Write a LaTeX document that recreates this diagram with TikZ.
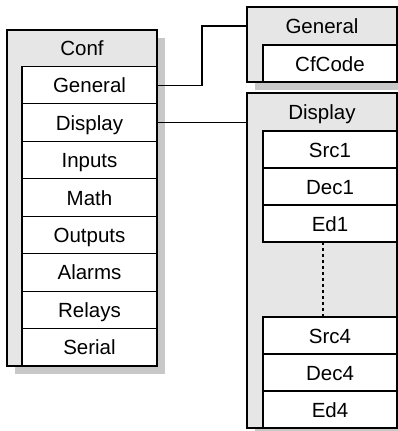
\documentclass[tikz,border=0pt]{standalone}
\usepackage{fontspec}
\setmainfont{Liberation Sans}
\usetikzlibrary{shadows}
\definecolor{boxgray}{HTML}{E6E6E6}
\definecolor{shadowgray}{HTML}{C8C8C8}
\begin{document}
\begin{tikzpicture}[x=1pt,y=-1pt,
  every node/.style={inner sep=0pt, outer sep=0pt, font=\fontsize{20.5}{24}\selectfont, text height=15pt, text depth=0pt},
  outerbox/.style={draw, line width=1.1pt, fill=boxgray, anchor=north west,
     drop shadow={shadow xshift=8pt, shadow yshift=-8pt, fill=shadowgray, opacity=1}},
  rowbox/.style={draw, line width=1.1pt, fill=white, anchor=north west},
  conn/.style={line width=1.1pt},
  dotline/.style={line width=1.8pt, dash pattern=on 3pt off 3pt}]
\useasboundingbox (0,0) rectangle (398,431);

% Conf
\node[outerbox, minimum width=150pt, minimum height=336pt] (conf) at (7,30) {};
\node (conft) at (82,48.25) {Conf};
\foreach \n/\t [count=\i from 0] in {cgen/General,cdisp/Display,cinp/Inputs,cmath/Math,cout/Outputs,calarm/Alarms,crel/Relays,cser/Serial}{
  \node[rowbox, minimum width=135pt, minimum height=37.44pt] (\n) at (22,66.5+37.44*\i) {\t};
}

% General
\node[outerbox, minimum width=150pt, minimum height=75pt] (gbox) at (247,7) {};
\node (gtitle) at (322,26) {General};
\node[rowbox, minimum width=134pt, minimum height=37pt] (cfcode) at (263,45) {CfCode};

% Display
\node[outerbox, minimum width=150pt, minimum height=335pt] (dbox) at (247,93) {};
\node (dtitle) at (322,112) {Display};
\node[rowbox, minimum width=134pt, minimum height=37pt] (src1) at (263,131) {Src1};
\node[rowbox, minimum width=134pt, minimum height=37pt] (dec1) at (263,168) {Dec1};
\node[rowbox, minimum width=134pt, minimum height=37pt] (ed1) at (263,205) {Ed1};
\node[rowbox, minimum width=134pt, minimum height=37pt] (src4) at (263,317) {Src4};
\node[rowbox, minimum width=134pt, minimum height=37pt] (dec4) at (263,354) {Dec4};
\node[rowbox, minimum width=134pt, minimum height=37pt] (ed4) at (263,391) {Ed4};

% connectors
\draw[conn] (cgen.east) -- ++(45,0) |- (gbox.west |- gtitle);
\draw[conn] (cdisp.east) -- (dbox.west |- cdisp.east);
\coordinate (dotx) at (323,0);
\draw[dotline] (ed1.south -| dotx) -- (src4.north -| dotx);
\end{tikzpicture}
\end{document}
